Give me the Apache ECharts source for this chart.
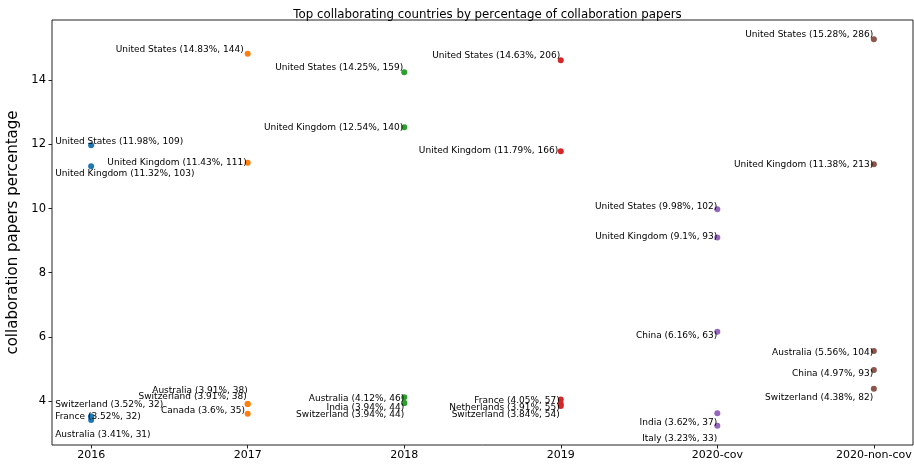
<!DOCTYPE html>
<html>
<head>
<meta charset="utf-8">
<style>
  html, body { margin: 0; padding: 0; background: #fff; }
  #chart { width: 914px; height: 464px; }
</style>
<script src="https://cdn.jsdelivr.net/npm/echarts@6/dist/echarts.min.js"></script>
</head>
<body>
<div id="chart"></div>
<script>
// Period categories along the x axis
const categories = ['2016', '2017', '2018', '2019', '2020-cov', '2020-non-cov'];

// Top countries per period: name, share of collaboration papers (%), paper count
const countries2016 = ['United States', 'United Kingdom', 'Switzerland', 'France', 'Australia'];
const percent2016 = [11.98, 11.32, 3.52, 3.52, 3.41];
const papers2016 = [109, 103, 32, 32, 31];

const countries2017 = ['United States', 'United Kingdom', 'Australia', 'Switzerland', 'Canada'];
const percent2017 = [14.83, 11.43, 3.91, 3.91, 3.6];
const papers2017 = [144, 111, 38, 38, 35];

const countries2018 = ['United States', 'United Kingdom', 'Australia', 'India', 'Switzerland'];
const percent2018 = [14.25, 12.54, 4.12, 3.94, 3.94];
const papers2018 = [159, 140, 46, 44, 44];

const countries2019 = ['United States', 'United Kingdom', 'France', 'Netherlands', 'Switzerland'];
const percent2019 = [14.63, 11.79, 4.05, 3.91, 3.84];
const papers2019 = [206, 166, 57, 55, 54];

const countriesCov = ['United States', 'United Kingdom', 'China', 'India', 'Italy'];
const percentCov = [9.98, 9.1, 6.16, 3.62, 3.23];
const papersCov = [102, 93, 63, 37, 33];

const countriesNonCov = ['United States', 'United Kingdom', 'Australia', 'China', 'Switzerland'];
const percentNonCov = [15.28, 11.38, 5.56, 4.97, 4.38];
const papersNonCov = [286, 213, 104, 93, 82];

const yTicks = [4, 6, 8, 10, 12, 14];

const groups = [
  [countries2016, percent2016, papers2016],
  [countries2017, percent2017, papers2017],
  [countries2018, percent2018, papers2018],
  [countries2019, percent2019, papers2019],
  [countriesCov, percentCov, papersCov],
  [countriesNonCov, percentNonCov, papersNonCov]
];

// Annotation placement (dx, dy from the marker centre in px, text alignment)
const labelPlacement = [
  [[-36, -3.5, 'left'], [-36, 7.5, 'left'], [-36, -12, 'left'], [-36, 0.4, 'left'], [-36, 14.4, 'left']],
  [[-4, -4.4, 'right'], [-1, 0, 'right'], [0, -13, 'right'], [-1, -7, 'right'], [-2.6, -3, 'right']],
  [[-1, -5, 'right'], [-1, 0, 'right'], [0, 1.5, 'right'], [0, 4.4, 'right'], [0, 11.4, 'right']],
  [[-0.6, -4.5, 'right'], [-2.6, -0.5, 'right'], [-1, 1.3, 'right'], [-1, 3.9, 'right'], [-1, 8.2, 'right']],
  [[0, -3, 'right'], [0, -0.4, 'right'], [0, 4.3, 'right'], [0, 9.2, 'right'], [0, 13.4, 'right']],
  [[-0.6, -4.3, 'right'], [-0.6, 0.6, 'right'], [-0.6, 1.4, 'right'], [-0.6, 4, 'right'], [-0.6, 8.7, 'right']]
];

const palette = ['#1f77b4', '#ff7f0e', '#2ca02c', '#d62728', '#9467bd', '#8c564b'];
const font = 'DejaVu Sans';
const symbolSize = 6;
const r = symbolSize / 2;

const series = groups.map(function (g, ci) {
  const names = g[0], pcts = g[1], counts = g[2];
  return {
    type: 'scatter',
    name: categories[ci],
    symbolSize: symbolSize,
    itemStyle: { color: palette[ci], opacity: 1 },
    emphasis: { disabled: true },
    data: pcts.map(function (p, i) {
      const pl = labelPlacement[ci][i];
      return {
        value: [ci, p],
        label: {
          show: true,
          position: [pl[0] + r, pl[1] + r],
          align: pl[2],
          verticalAlign: 'middle',
          formatter: names[i] + ' (' + p + '%, ' + counts[i] + ')',
          fontFamily: font,
          fontSize: 9,
          color: '#000'
        }
      };
    })
  };
});

const chart = echarts.init(document.getElementById('chart'), null, { renderer: 'canvas' });
chart.setOption({
  animation: false,
  backgroundColor: '#fff',
  title: {
    text: 'Top collaborating countries by percentage of collaboration papers',
    left: 482.5,
    textAlign: 'center',
    top: 4,
    textStyle: { fontFamily: font, fontSize: 11.8, fontWeight: 'normal', color: '#000' }
  },
  grid: {
    left: 52, top: 20, width: 861, height: 425,
    outerBoundsMode: 'none',
    containLabel: false,
    show: true, borderColor: '#222', borderWidth: 1, backgroundColor: 'transparent'
  },
  xAxis: {
    type: 'value',
    min: -0.25,
    max: 5.25,
    axisLine: { show: false, onZero: false },
    splitLine: { show: false },
    axisTick: { show: true, length: 3.5, lineStyle: { color: '#222' }, customValues: [0, 1, 2, 3, 4, 5] },
    axisLabel: {
      customValues: [0, 1, 2, 3, 4, 5],
      formatter: function (v) { return categories[Math.round(v)]; },
      fontFamily: font, fontSize: 11, color: '#000', margin: 5
    }
  },
  yAxis: {
    type: 'value',
    min: 2.6275,
    max: 15.8825,
    name: 'collaboration papers percentage',
    nameLocation: 'middle',
    nameGap: 30,
    nameTextStyle: { fontFamily: font, fontSize: 15, color: '#000' },
    axisLine: { show: false, onZero: false },
    splitLine: { show: false },
    axisTick: { show: true, length: 3.5, lineStyle: { color: '#222' }, customValues: yTicks },
    axisLabel: { customValues: yTicks, fontFamily: font, fontSize: 11.5, color: '#000', margin: 6 }
  },
  series: series
});
</script>
</body>
</html>
